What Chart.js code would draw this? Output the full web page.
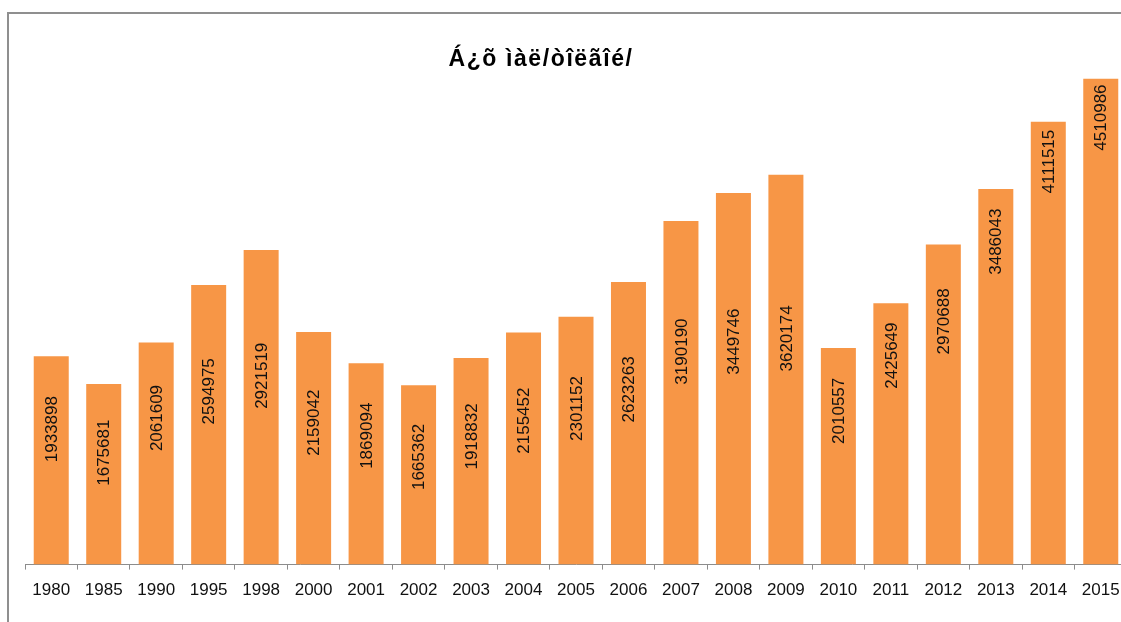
<!DOCTYPE html>
<html>
<head>
<meta charset="utf-8">
<script src="https://cdn.jsdelivr.net/npm/chart.js@4.4.1/dist/chart.umd.min.js"></script>
<style>
  html, body { margin: 0; padding: 0; background: #fff; overflow: hidden; }
  #frame {
    position: absolute; left: 7px; top: 12px; width: 2000px; height: 2000px;
    border-left: 2px solid #8f8f8f; border-top: 2px solid #8f8f8f;
  }
  #wrap { position: absolute; left: 0; top: 0; width: 1140px; height: 622px; }
</style>
</head>
<body>
<div id="frame"></div>
<div id="wrap"><canvas id="myChart"></canvas></div>
<script>
'use strict';

// Chart data
const titleText = 'Á¿õ ìàë/òîëãîé/';
const years = ['1980', '1985', '1990', '1995', '1998', '2000', '2001', '2002', '2003', '2004', '2005',
  '2006', '2007', '2008', '2009', '2010', '2011', '2012', '2013', '2014', '2015'];
const amounts = [1933898, 1675681, 2061609, 2594975, 2921519, 2159042, 1869094, 1665362, 1918832, 2155452, 2301152,
  2623263, 3190190, 3449746, 3620174, 2010557, 2425649, 2970688, 3486043, 4111515, 4510986];
// where each label sits, as a share of its bar's height
const labelSpot = [0.65, 0.62, 0.66, 0.62, 0.60, 0.61, 0.64, 0.60, 0.62, 0.62, 0.63,
  0.62, 0.62, 0.60, 0.58, 0.71, 0.80, 0.76, 0.86, 0.91, 0.92];

const orange = '#F79646';
const axisGray = '#8c8c8c';

// Title plugin
const titlePlugin = {
  id: 'excelTitle',
  afterDraw(chart) {
    const ctx = chart.ctx;
    ctx.save();
    ctx.font = 'bold 23px "Liberation Sans", Arial, sans-serif';
    ctx.letterSpacing = '1.6px';
    ctx.fillStyle = '#000';
    ctx.textAlign = 'center';
    ctx.textBaseline = 'alphabetic';
    ctx.fillText(titleText, 541, 66);
    ctx.restore();
  }
};

// Value labels inside the bars, rotated
const barLabels = {
  id: 'barLabels',
  afterDatasetsDraw(chart) {
    const ctx = chart.ctx;
    const meta = chart.getDatasetMeta(0);
    const yScale = chart.scales.y;
    const base = yScale.getPixelForValue(0);
    ctx.save();
    ctx.font = '17px "Liberation Sans", Arial, sans-serif';
    ctx.fillStyle = '#111';
    ctx.textAlign = 'center';
    ctx.textBaseline = 'middle';
    meta.data.forEach((bar, i) => {
      const top = yScale.getPixelForValue(amounts[i]);
      const cy = base - (base - top) * labelSpot[i];
      ctx.save();
      ctx.translate(bar.x + 1, cy);
      ctx.rotate(-Math.PI / 2);
      ctx.fillText(String(amounts[i]), 0, 0);
      ctx.restore();
    });
    ctx.restore();
  }
};

const ctx = document.getElementById('myChart').getContext('2d');
const chart = new Chart(ctx, {
  type: 'bar',
  data: {
    labels: years,
    datasets: [{
      data: amounts,
      backgroundColor: orange,
      borderWidth: 0,
      barPercentage: 0.667,
      categoryPercentage: 1
    }]
  },
  options: {
    responsive: true,
    maintainAspectRatio: false,
    animation: false,
    layout: { padding: { left: 25, right: 13, top: 26, bottom: 10 } },
    plugins: {
      legend: { display: false },
      title: { display: false },
      tooltip: { enabled: false }
    },
    scales: {
      x: {
        offset: true,
        grid: {
          offset: true,
          drawOnChartArea: false,
          drawTicks: true,
          tickLength: 5,
          color: axisGray
        },
        border: { display: true, color: axisGray, width: 1 },
        ticks: {
          color: '#111',
          padding: 11,
          maxRotation: 0,
          autoSkip: false,
          font: { family: '"Liberation Sans", Arial, sans-serif', size: 17 }
        }
      },
      y: {
        display: false,
        min: 0,
        max: 5000000
      }
    }
  },
  plugins: [titlePlugin, barLabels]
});
</script>
</body>
</html>
